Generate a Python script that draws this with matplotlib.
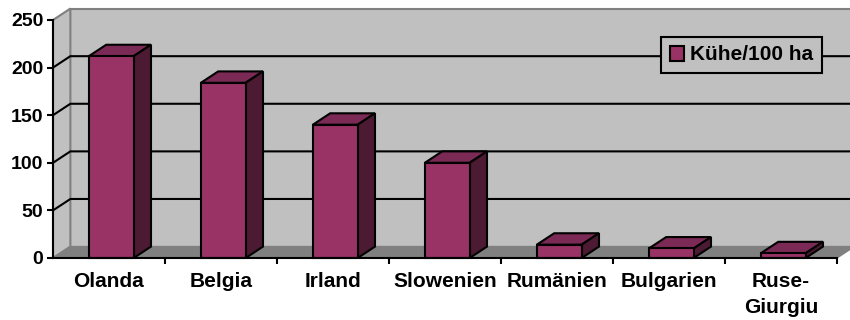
import matplotlib
matplotlib.use("Agg")
import matplotlib.pyplot as plt
from matplotlib.patches import Polygon, Patch

plt.rcParams["font.family"] = ["Liberation Sans", "DejaVu Sans"]
plt.rcParams["font.weight"] = "bold"

# Kühe je 100 ha
countries = ["Olanda", "Belgia", "Irland", "Slowenien", "Rumänien", "Bulgarien", "Ruse-\nGiurgiu"]
cows = [212, 184, 140, 100, 14, 10, 5]
series_name = "Kühe/100 ha"
yticks = [0, 50, 100, 150, 200, 250]

front_col = "#993366"
top_col = "#7A2A55"
side_col = "#4D1A33"
wall_col = "#C0C0C0"
floor_col = "#808080"

fig = plt.figure(figsize=(8.5, 3.2), dpi=100)
ax = fig.add_axes([53 / 850, 62 / 320, 784 / 850, 238 / 320])
ax.set_xlim(-0.5, len(countries) - 0.5)
ax.set_ylim(0, 250)
ax.patch.set_visible(False)

# 3D depth offset in data units
ddx = 0.155
ddy = 12.0
x0, x1 = -0.5, len(countries) - 0.5
ymax = yticks[-1]

# back wall, side wall and floor
ax.add_patch(Polygon([(x0 + ddx, ddy), (x1 + ddx, ddy), (x1 + ddx, ymax + ddy), (x0 + ddx, ymax + ddy)],
                     closed=True, fc=wall_col, ec=floor_col, lw=1.5, clip_on=False, zorder=0))
ax.add_patch(Polygon([(x0, 0), (x0 + ddx, ddy), (x0 + ddx, ymax + ddy), (x0, ymax)],
                     closed=True, fc=wall_col, ec=floor_col, lw=1.5, clip_on=False, zorder=0))
ax.add_patch(Polygon([(x0, 0), (x1, 0), (x1 + ddx, ddy), (x0 + ddx, ddy)],
                     closed=True, fc=floor_col, ec=floor_col, lw=1.0, clip_on=False, zorder=1))

# gridlines on both walls
for v in yticks[1:-1]:
    ax.plot([x0, x0 + ddx, x1 + ddx], [v, v + ddy, v + ddy], color="black", lw=1.5,
            clip_on=False, zorder=1, solid_joinstyle="miter")

# bars: front face, then top and side
w = 0.4
for i, v in enumerate(cows):
    xc = i + 0.02
    ax.add_patch(Polygon([(xc - w / 2, v), (xc + w / 2, v), (xc + w / 2 + ddx, v + ddy), (xc - w / 2 + ddx, v + ddy)],
                         closed=True, fc=top_col, ec="black", lw=1.5, clip_on=False, zorder=3))
    ax.add_patch(Polygon([(xc + w / 2, 0), (xc + w / 2 + ddx, ddy), (xc + w / 2 + ddx, v + ddy), (xc + w / 2, v)],
                         closed=True, fc=side_col, ec="black", lw=1.5, clip_on=False, zorder=3))
ax.bar([i + 0.02 for i in range(len(cows))], cows, width=w, color=front_col,
       edgecolor="black", linewidth=1.5, zorder=4, clip_on=False)

# axes
for s in ["top", "right"]:
    ax.spines[s].set_visible(False)
for s in ["left", "bottom"]:
    ax.spines[s].set_linewidth(1.5)
    ax.spines[s].set_zorder(5)
ax.set_yticks(yticks)
ax.set_yticklabels([str(t) for t in yticks], fontsize=14, fontweight="bold")
ax.tick_params(axis="y", length=4, width=1.5, pad=3)
ax.set_xticks([i + 0.5 for i in range(len(countries))])
ax.set_xticklabels([])
ax.tick_params(axis="x", which="major", length=4, width=1.5)
ax.set_xticks(range(len(countries)), minor=True)
ax.set_xticklabels(countries, minor=True, fontsize=15, fontweight="bold", linespacing=1.45)
ax.tick_params(axis="x", which="minor", length=0, pad=10)

leg = fig.legend(handles=[Patch(fc=front_col, ec="black", lw=1.5, label=series_name)],
                 loc="center", bbox_to_anchor=(741.5 / 850, 1 - 55 / 320),
                 prop={"size": 15, "weight": "bold"}, fancybox=False, framealpha=1,
                 handlelength=0.7, handleheight=0.7, handletextpad=0.3, borderpad=0.42,
                 borderaxespad=0)
leg.get_frame().set_facecolor(wall_col)
leg.get_frame().set_edgecolor("black")
leg.get_frame().set_linewidth(1.5)

fig.savefig("out.png", dpi=100, facecolor="white")
